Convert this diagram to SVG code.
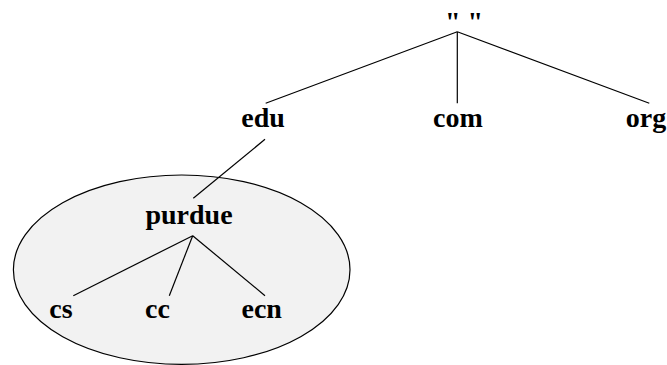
<svg xmlns="http://www.w3.org/2000/svg" width="667" height="365" viewBox="0 0 667 365">
<style>
text{font-family:"Liberation Serif","Times New Roman",serif;font-weight:bold;font-size:28px;text-anchor:middle;fill:#000}
line{stroke:#000;stroke-width:1.2}
</style>
<rect width="667" height="365" fill="#fff"/>
<g id="zone">
<ellipse cx="181.7" cy="269.7" rx="168.3" ry="94.7" fill="#f2f2f2" stroke="#000" stroke-width="1.2"/>
</g>
<g id="connectors">
<line x1="457.3" y1="31.7" x2="265.7" y2="103.3"/>
<line x1="457.3" y1="31.7" x2="457.3" y2="103.3"/>
<line x1="457.3" y1="31.7" x2="649.3" y2="103.3"/>
<line x1="265" y1="139.3" x2="193.3" y2="198.3"/>
<line x1="192.7" y1="235.7" x2="73.3" y2="295.7"/>
<line x1="192.7" y1="235.7" x2="169.3" y2="295.7"/>
<line x1="192.7" y1="235.7" x2="265" y2="295.7"/>
</g>
<g id="root"><text x="464" y="31">" "</text></g>
<g id="edu"><text x="263" y="127">edu</text></g>
<g id="com"><text x="458" y="127">com</text></g>
<g id="org"><text x="646" y="127">org</text></g>
<g id="purdue"><text x="189" y="224">purdue</text></g>
<g id="cs"><text x="61" y="318">cs</text></g>
<g id="cc"><text x="157.5" y="318">cc</text></g>
<g id="ecn"><text x="261.7" y="318">ecn</text></g>
</svg>
